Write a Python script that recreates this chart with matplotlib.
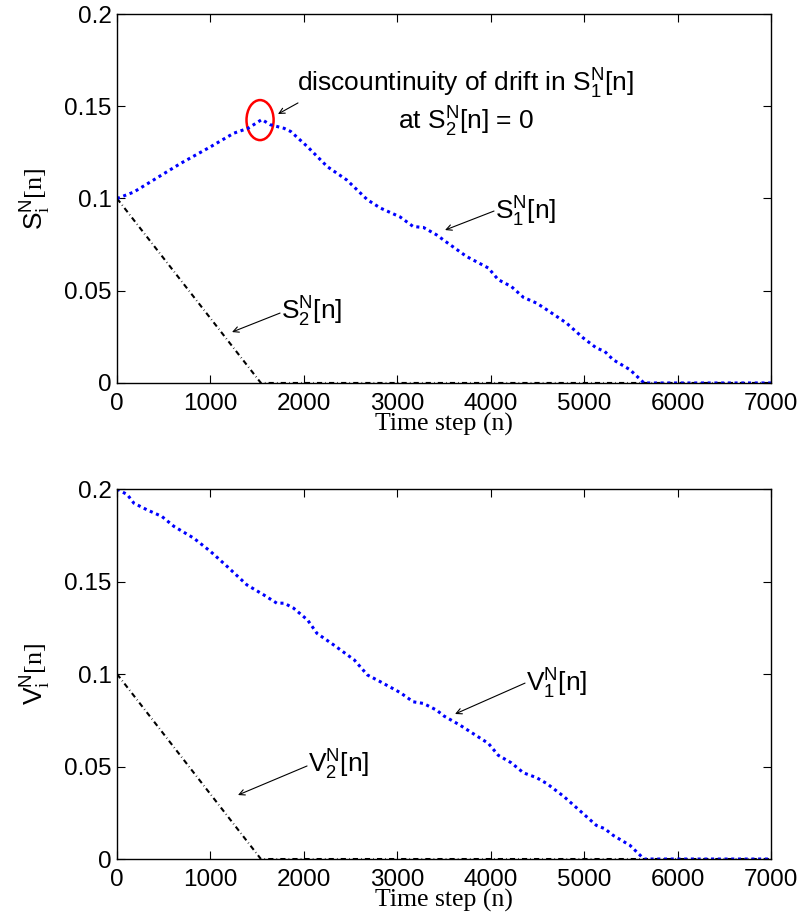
import matplotlib
matplotlib.use('Agg')
import matplotlib.pyplot as plt
from matplotlib.patches import Ellipse
import numpy as np

plt.rcParams['font.family'] = 'Liberation Sans'
plt.rcParams['mathtext.fontset'] = 'custom'
plt.rcParams['mathtext.rm'] = 'Liberation Serif'
plt.rcParams['mathtext.it'] = 'Liberation Sans'
plt.rcParams['mathtext.sf'] = 'Liberation Sans'

TickSize = 17.5
TextSize = 19

# ---- data ----
s1_n = [0, 180, 390, 680, 1000, 1250, 1400, 1550, 1640, 1790, 1860, 2040, 2250, 2460, 2680, 2820,
        3030, 3170, 3280, 3420, 3500, 3740, 3975, 4080, 4220, 4350, 4490, 4600, 4810, 4990, 5130,
        5220, 5310, 5490, 5640, 7000]
s1_val = [0.100, 0.1035, 0.110, 0.119, 0.128, 0.1354, 0.138, 0.1428, 0.1400, 0.1380, 0.1363, 0.1280,
          0.1173, 0.1100, 0.0993, 0.0948, 0.0900, 0.0848, 0.0843, 0.0803, 0.0773, 0.0686, 0.0623,
          0.0560, 0.0523, 0.0464, 0.0433, 0.0397, 0.0325, 0.0244, 0.0190, 0.0171, 0.0126, 0.0072,
          0.0, 0.0]
s2_n = [0, 1540, 7000]
s2_val = [0.1, 0.0, 0.0]

v1_n = [0, 110, 180, 320, 480, 610, 820, 1000, 1180, 1390, 1570, 1710, 1790, 1890, 2040, 2140, 2320,
        2540, 2680, 2820, 3030, 3170, 3280, 3420, 3500, 3670, 3975, 4080, 4220, 4350, 4490, 4600,
        4780, 4990, 5130, 5220, 5310, 5490, 5640, 7000]
v1_val = [0.200, 0.197, 0.1924, 0.1888, 0.1852, 0.1798, 0.1735, 0.1663, 0.1581, 0.1482, 0.1428,
          0.1383, 0.1383, 0.1356, 0.1292, 0.1220, 0.1157, 0.1076, 0.0995, 0.0958, 0.0900, 0.0850,
          0.0841, 0.0805, 0.0773, 0.0724, 0.0625, 0.0561, 0.0520, 0.0466, 0.0440, 0.0408, 0.0339,
          0.0245, 0.0182, 0.0164, 0.0128, 0.0074, 0.0, 0.0]
v2_n = [0, 1540, 7000]
v2_val = [0.1, 0.0, 0.0]

xticks = [0, 1000, 2000, 3000, 4000, 5000, 6000, 7000]
yticks = [0, 0.05, 0.1, 0.15, 0.2]
ytick_labels = ['0', '0.05', '0.1', '0.15', '0.2']

fig = plt.figure(figsize=(8.02, 9.16), dpi=100)
ax1 = fig.add_axes([0.1459, 0.5819, 0.8155, 0.4028])
ax2 = fig.add_axes([0.1459, 0.0622, 0.8155, 0.4039])

dashdot = (0, (2.5, 1.5, 0.3, 1.5))
dotted = (0, (1, 1.2))


def style_axis(ax, ylab):
    ax.set_xlim(0, 7000)
    ax.set_ylim(0, 0.2)
    ax.set_xticks(xticks)
    ax.set_xticklabels([str(t) for t in xticks], fontsize=TickSize)
    ax.set_yticks(yticks)
    ax.set_yticklabels(ytick_labels, fontsize=TickSize)
    ax.tick_params(direction='in', top=True, right=True, length=6, width=0.8)
    ax.tick_params(axis='x', pad=7.5)
    ax.tick_params(axis='y', pad=4)
    for sp in ax.spines.values():
        sp.set_linewidth(1.0)
    ax.set_xlabel('Time step (n)', fontsize=18.5, fontname='Liberation Serif', labelpad=-2)
    ax.set_ylabel(ylab, fontsize=TextSize, labelpad=8)


def lab(letter, sub):
    # sans letter with sans sub/superscripts, as in the annotations
    return r'$\mathsf{%s}_{\mathsf{%s}}^{\mathsf{N}}$[n]' % (letter, sub)


def arrow(ax, head, tail):
    ax.annotate('', xy=head, xytext=tail,
                arrowprops=dict(arrowstyle='->', color='black', lw=0.8, shrinkA=0, shrinkB=0))


# top panel
ax1.plot(s2_n, s2_val, color='black', lw=1.5, linestyle=dashdot)
ax1.plot(s1_n, s1_val, color='blue', lw=2.2, linestyle=dotted)
style_axis(ax1, r'$\mathsf{S}_{\mathrm{i}}^{\mathsf{N}}\mathrm{[n]}$')
ax1.add_patch(Ellipse((1531, 0.1425), 290, 0.0217, fill=False, edgecolor='red', lw=1.8))
ax1.text(3735, 0.1577, 'discountinuity of drift in ' + lab('S', '1'),
         fontsize=TextSize, ha='center', va='baseline')
ax1.text(3735, 0.1371, 'at ' + lab('S', '2') + ' = 0',
         fontsize=TextSize, ha='center', va='baseline')
arrow(ax1, (1723, 0.1458), (1937, 0.1518))
ax1.text(4046, 0.0883, lab('S', '1'), fontsize=TextSize, ha='left', va='baseline')
arrow(ax1, (3511, 0.0829), (4035, 0.0932))
ax1.text(1755, 0.0341, lab('S', '2'), fontsize=TextSize, ha='left', va='baseline')
arrow(ax1, (1231, 0.0276), (1745, 0.0379))

# bottom panel
ax2.plot(v2_n, v2_val, color='black', lw=1.5, linestyle=dashdot)
ax2.plot(v1_n, v1_val, color='blue', lw=2.2, linestyle=dotted)
style_axis(ax2, r'$\mathsf{V}_{\mathrm{i}}^{\mathsf{N}}\mathrm{[n]}$')
ax2.text(4378, 0.0903, lab('V', '1'), fontsize=TextSize, ha='left', va='baseline')
arrow(ax2, (3618, 0.0784), (4367, 0.0951))
ax2.text(2044, 0.0465, lab('V', '2'), fontsize=TextSize, ha='left', va='baseline')
arrow(ax2, (1295, 0.0346), (2034, 0.0503))

plt.savefig('out.png', dpi=100)
